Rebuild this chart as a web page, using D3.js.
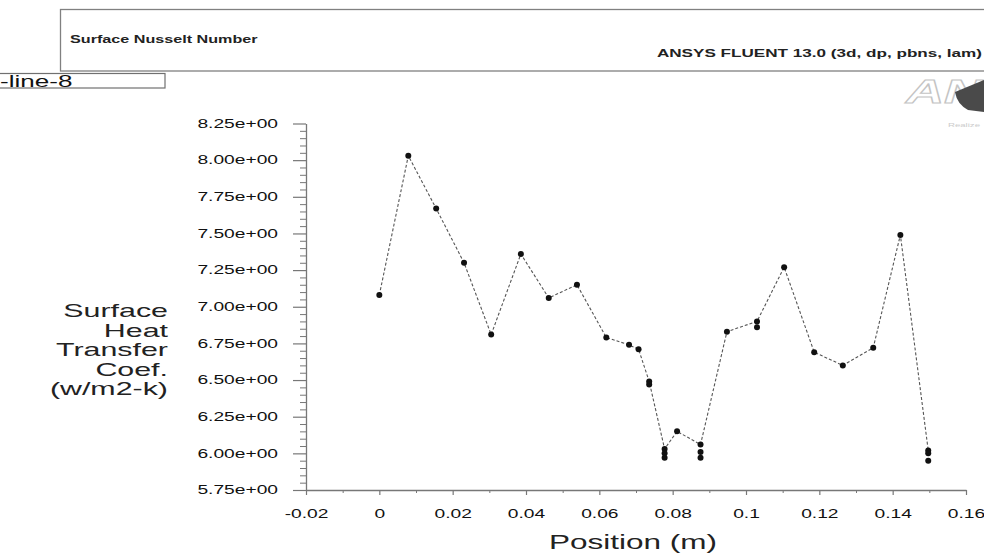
<!DOCTYPE html>
<html>
<head>
<meta charset="utf-8">
<script src="https://cdn.jsdelivr.net/npm/d3@7"></script>
<style>
  body { margin: 0; background: #fff; }
  svg { display: block; font-family: "Liberation Sans", Arial, sans-serif; }
</style>
</head>
<body>
<svg id="chart" width="984" height="556"></svg>
<script>
// main series (line goes through these)
var positions = [0, 0.0079, 0.0155, 0.0231, 0.0305, 0.0386, 0.0462, 0.0539, 0.0619, 0.0681, 0.0707, 0.0736,
                 0.0778, 0.0812, 0.0876, 0.0948, 0.103, 0.1104, 0.1186, 0.1264, 0.1347, 0.1421, 0.1497];
var htc = [7.08, 8.03, 7.67, 7.30, 6.81, 7.36, 7.06, 7.15, 6.79, 6.74, 6.71, 6.49,
           6.03, 6.15, 6.06, 6.83, 6.90, 7.27, 6.69, 6.60, 6.72, 7.49, 6.02];
// extra faces stacked at the same position
var dupPositions = [0.0736, 0.0778, 0.0778, 0.0876, 0.0876, 0.103, 0.1497, 0.1497];
var dupHtc = [6.47, 6.00, 5.97, 6.01, 5.97, 6.86, 6.00, 5.95];

var xTicks = [-0.02, 0, 0.02, 0.04, 0.06, 0.08, 0.1, 0.12, 0.14, 0.16];
var yTicks = [5.75, 6.0, 6.25, 6.5, 6.75, 7.0, 7.25, 7.5, 7.75, 8.0, 8.25];
var yTitle = ["Surface", "Heat", "Transfer", "Coef.", "(w/m2-k)"];

var SX = 1.6; // the picture is stretched sideways
var svg = d3.select("#chart");

var x = d3.scaleLinear().domain([-0.02, 0.16]).range([306, 966]);
var y = d3.scaleLinear().domain([5.75, 8.25]).range([490, 123.5]);

function stretch(sel) {
    sel.each(function () {
        var t = d3.select(this);
        var tx = +t.attr("x") || 0;
        t.attr("x", tx / SX).attr("transform", "scale(" + SX + ",1)");
    });
}

// header box
svg.append("rect").attr("x", 60.5).attr("y", 9.5).attr("width", 1000).attr("height", 61.5)
    .attr("fill", "none").attr("stroke", "#808080").attr("stroke-width", 1.3);
svg.append("text").attr("x", 70).attr("y", 43).text("Surface Nusselt Number")
    .attr("font-size", 10.1).attr("font-weight", "bold").attr("fill", "#222").call(stretch);
svg.append("text").attr("x", 982).attr("y", 57.5).attr("text-anchor", "end")
    .text("ANSYS FLUENT 13.0 (3d, dp, pbns, lam)")
    .attr("font-size", 10.7).attr("font-weight", "bold").attr("fill", "#222").call(stretch);

// line name box
svg.append("rect").attr("x", -1).attr("y", 73.5).attr("width", 166).attr("height", 14.5)
    .attr("fill", "none").attr("stroke", "#707070").attr("stroke-width", 1.2);
svg.append("text").attr("x", 0).attr("y", 87).text("-line-8")
    .attr("font-size", 16.3).attr("fill", "#111").call(stretch);

// logo (rough)
var logo = svg.append("g");
logo.append("text").attr("x", 906).attr("y", 103).text("AN")
    .attr("font-size", 33).attr("font-weight", "bold").attr("font-style", "italic")
    .attr("fill", "#fff").attr("stroke", "#c4c4c4").attr("stroke-width", 1).call(stretch);
logo.append("path").attr("d", "M955,92 L984,80 L984,112 L968,110 Q957,104 955,92 Z").attr("fill", "#4a4a4a");
logo.append("text").attr("x", 948).attr("y", 127).text("Realize")
    .attr("font-size", 6).attr("fill", "#ccc").call(stretch);

// axes
var yMinor = d3.range(5.75, 8.2501, 0.05).filter(function (v) {
    return Math.abs(v / 0.25 - Math.round(v / 0.25)) > 1e-6;
});
svg.append("g").attr("transform", "translate(306,0)")
    .call(d3.axisLeft(y).tickValues(yMinor).tickSize(6).tickSizeOuter(0).tickFormat(""))
    .call(function (g) { g.select(".domain").remove(); })
    .selectAll("line").attr("stroke", "#777");
var yAxis = svg.append("g").attr("transform", "translate(306,0)")
    .call(d3.axisLeft(y).tickValues(yTicks).tickSize(13).tickSizeOuter(0)
        .tickFormat(function (d) { return d.toFixed(2) + "e+00"; }));
yAxis.select(".domain").attr("stroke", "#777").attr("stroke-width", 1.3);
yAxis.selectAll("line").attr("stroke", "#777").attr("stroke-width", 1.2);
yAxis.selectAll("text").attr("font-size", 12).attr("font-family", "Liberation Sans, Arial, sans-serif")
    .attr("fill", "#111").attr("x", -28).call(stretch);

var xMinor = d3.range(-0.01, 0.16, 0.02);
svg.append("g").attr("transform", "translate(0,490)")
    .call(d3.axisBottom(x).tickValues(xMinor).tickSize(3).tickSizeOuter(0).tickFormat(""))
    .call(function (g) { g.select(".domain").remove(); })
    .selectAll("line").attr("stroke", "#777");
var xAxis = svg.append("g").attr("transform", "translate(0,490)")
    .call(d3.axisBottom(x).tickValues(xTicks).tickSize(5).tickSizeOuter(0)
        .tickFormat(function (d) { return String(+d.toFixed(2)); }));
xAxis.select(".domain").attr("stroke", "#777").attr("stroke-width", 1.3);
xAxis.selectAll("line").attr("stroke", "#777").attr("stroke-width", 1.2);
xAxis.selectAll("text").attr("font-size", 12).attr("font-family", "Liberation Sans, Arial, sans-serif")
    .attr("fill", "#111").attr("y", 19).attr("dy", "0.71em").call(stretch);

// titles
svg.append("text").attr("x", 633).attr("y", 549).attr("text-anchor", "middle").text("Position (m)")
    .attr("font-size", 19.7).attr("fill", "#222").call(stretch);
svg.append("g").selectAll("text").data(yTitle).join("text")
    .attr("x", 168).attr("y", function (d, i) { return 317 + i * 19.6; })
    .attr("text-anchor", "end").attr("font-size", 19).attr("fill", "#222")
    .text(function (d) { return d; }).call(stretch);

// data
var pts = positions.map(function (p, i) { return [p, htc[i]]; });
svg.append("path").datum(pts)
    .attr("fill", "none").attr("stroke", "#555").attr("stroke-width", 1.1).attr("stroke-dasharray", "3,2")
    .attr("d", d3.line().x(function (d) { return x(d[0]); }).y(function (d) { return y(d[1]); }));
var allPts = pts.concat(dupPositions.map(function (p, i) { return [p, dupHtc[i]]; }));
svg.append("g").selectAll("circle").data(allPts).join("circle")
    .attr("cx", function (d) { return x(d[0]); })
    .attr("cy", function (d) { return y(d[1]); })
    .attr("r", 3).attr("fill", "#111");
</script>
</body>
</html>
